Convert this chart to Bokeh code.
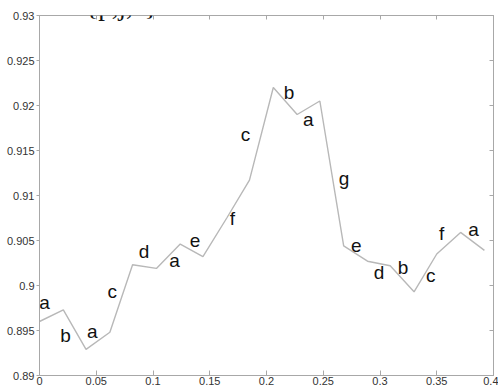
from bokeh.plotting import figure
from bokeh.models import LinearAxis, FixedTicker, Range1d, ColumnDataSource, Label
from bokeh.core.properties import value
from bokeh.embed import file_html
from bokeh.resources import INLINE

# series
x_vals = [0.0, 0.021, 0.041, 0.062, 0.082, 0.103, 0.124, 0.144, 0.165, 0.185,
          0.206, 0.227, 0.247, 0.268, 0.289, 0.309, 0.330, 0.350, 0.371, 0.392]
y_vals = [0.8960, 0.8973, 0.8929, 0.8948, 0.9023, 0.9019, 0.9046, 0.9032, 0.9075, 0.9117,
          0.9220, 0.9190, 0.9205, 0.9044, 0.9027, 0.9022, 0.8993, 0.9035, 0.9059, 0.9039]

# letter annotations
lab_text = ["a", "b", "a", "c", "d", "a", "e", "f", "c", "b", "a", "g", "e", "d", "b", "c", "f", "a"]
lab_x = [0.0044, 0.0229, 0.0465, 0.0641, 0.0921, 0.119, 0.137, 0.170, 0.1816, 0.2198,
         0.2369, 0.2683, 0.2792, 0.2992, 0.3203, 0.3447, 0.3542, 0.3824]
lab_y = [0.8981, 0.8944, 0.8949, 0.8993, 0.9038, 0.9028, 0.9050, 0.9074, 0.9168, 0.9214,
         0.9185, 0.9119, 0.9045, 0.9014, 0.9020, 0.9011, 0.9058, 0.9062]

# cropped caption fragment above the plot
caption = "a y - ast{p,j,c}"

# ticks
x_ticks = [0, 0.05, 0.1, 0.15, 0.2, 0.25, 0.3, 0.35, 0.4]
x_tick_labels = ["0", "0.05", "0.1", "0.15", "0.2", "0.25", "0.3", "0.35", "0.4"]
y_ticks = [0.89, 0.895, 0.9, 0.905, 0.91, 0.915, 0.92, 0.925, 0.93]
y_tick_labels = ["0.89", "0.895", "0.9", "0.905", "0.91", "0.915", "0.92", "0.925", "0.93"]

AX = "#a8a8a8"
LBL = "#333333"

p = figure(width=498, height=387, output_backend="svg", toolbar_location=None,
           x_range=Range1d(0, 0.4), y_range=Range1d(0.89, 0.93),
           min_border_left=39, min_border_right=5, min_border_top=15, min_border_bottom=11,
           background_fill_color="white", border_fill_color="white")
p.grid.visible = False
p.outline_line_color = AX

p.line(x_vals, y_vals, line_color="#b8b8b8", line_width=1.4)

src = ColumnDataSource(dict(x=lab_x, y=lab_y, t=lab_text))
p.text("x", "y", text="t", source=src, text_align="center", text_baseline="middle",
       text_font=value("Liberation Sans"), text_font_size="19px", text_color="#111111")

p.add_layout(Label(x=-0.0344, y=0.93107, text=caption, text_align="left",
                   text_baseline="alphabetic", text_font="Liberation Serif",
                   text_font_size="27px", text_color="#111111"))

xo = {t: l for t, l in zip(x_ticks, x_tick_labels)}
yo = {t: l for t, l in zip(y_ticks, y_tick_labels)}

xa = p.xaxis[0]
xa.ticker = FixedTicker(ticks=x_ticks)
xa.major_label_overrides = xo
xa.major_tick_in = 5
xa.major_tick_out = 0
xa.minor_tick_line_color = None
xa.major_label_standoff = 1
ya = p.yaxis[0]
ya.ticker = FixedTicker(ticks=y_ticks)
ya.major_label_overrides = yo
ya.major_tick_in = 0
ya.major_tick_out = 3
ya.minor_tick_line_color = None
ya.major_label_standoff = 2

for ax in (xa, ya):
    ax.axis_line_color = AX
    ax.major_tick_line_color = AX
    ax.major_label_text_color = LBL
    ax.major_label_text_font = "Liberation Sans"
    ax.major_label_text_font_size = "11px"

top = LinearAxis(ticker=FixedTicker(ticks=x_ticks), major_label_text_alpha=0,
                 major_label_text_font_size="1px",
                 major_label_standoff=0, major_tick_in=4, major_tick_out=0,
                 minor_tick_line_color=None, axis_line_color=AX, major_tick_line_color=AX)
right = LinearAxis(ticker=FixedTicker(ticks=y_ticks), major_label_text_alpha=0,
                   major_label_text_font_size="1px",
                   major_label_standoff=0, major_tick_in=4, major_tick_out=0,
                   minor_tick_line_color=None, axis_line_color=AX, major_tick_line_color=AX)
p.add_layout(top, "above")
p.add_layout(right, "right")

open("out.html", "w").write(file_html(p, INLINE))
